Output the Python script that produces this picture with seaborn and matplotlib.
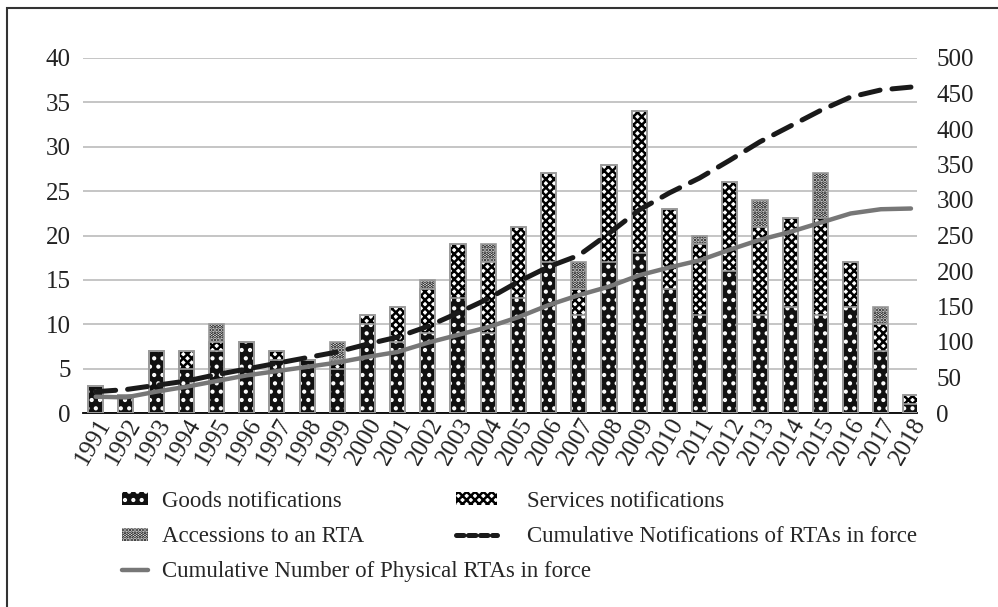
import matplotlib
matplotlib.use("Agg")
import matplotlib.pyplot as plt
import seaborn as sns
import pandas as pd
import numpy as np
from matplotlib.patches import Patch, Rectangle
from matplotlib.lines import Line2D

years = [str(y) for y in range(1991, 2019)]
goods = [3, 2, 7, 5, 7, 8, 6, 6, 5, 10, 8, 9, 13, 9, 13, 17, 11, 17, 18, 14, 11, 16, 11, 12, 11, 12, 7, 1]
services = [0, 0, 0, 2, 1, 0, 1, 0, 1, 1, 4, 5, 6, 8, 8, 10, 3, 11, 16, 9, 8, 10, 10, 10, 11, 5, 3, 1]
accessions = [0, 0, 0, 0, 2, 0, 0, 0, 2, 0, 0, 1, 0, 2, 0, 0, 3, 0, 0, 0, 1, 0, 3, 0, 5, 0, 2, 0]
cum_notifications = [30, 33, 39, 45, 54, 62, 70, 78, 86, 97, 107, 122, 141, 161, 185, 206, 222, 253,
                     286, 310, 331, 356, 382, 404, 426, 445, 455, 459]
cum_physical = [23, 22, 30, 37, 45, 53, 59, 65, 71, 79, 86, 99, 110, 121, 135, 152, 166, 178,
                194, 205, 215, 230, 244, 255, 268, 281, 287, 288]

sns.set_theme(style="white")
plt.rcParams['font.family'] = ['Liberation Serif', 'DejaVu Serif']
plt.rcParams['hatch.linewidth'] = 1.8

df = pd.DataFrame({
    "year": years,
    "goods": goods,
    "gs": np.array(goods) + np.array(services),
    "total": np.array(goods) + np.array(services) + np.array(accessions),
    "x": np.arange(len(years)),
    "cum_notif": cum_notifications,
    "cum_phys": cum_physical,
})

fig = plt.figure(figsize=(9.98, 6.07), dpi=100)
ax = fig.add_axes([83 / 998, 1 - 413 / 607, (917 - 83) / 998, (413 - 58) / 607])

W = 0.5
H_ACC, H_SRV, H_GDS = ".....", "xxxx", ".."
# stacked bars: draw cumulative totals back to front
sns.barplot(data=df, x="year", y="total", ax=ax, color="white", edgecolor="black",
            linewidth=0, hatch=H_ACC, width=W, zorder=2)
sns.barplot(data=df, x="year", y="gs", ax=ax, color="white", edgecolor="black",
            linewidth=0, hatch=H_SRV, width=W, zorder=2)
sns.barplot(data=df, x="year", y="goods", ax=ax, color="#111111", edgecolor="white",
            linewidth=0, hatch=H_GDS, width=W, zorder=2)
# outlines
for col in ["total", "gs", "goods"]:
    sns.barplot(data=df, x="year", y=col, ax=ax, fill=False, edgecolor="#9a9a9a",
                linewidth=1.2, width=W, zorder=3)

ax.set_ylim(0, 40)
ax.set_yticks(range(0, 41, 5))
ax.set_xlim(-0.42, 27.2)
ax.set_xlabel("")
ax.set_ylabel("")
ax.yaxis.grid(True, color="#bbbbbb", linewidth=1.2, zorder=0)
ax.set_axisbelow(True)
for s in ["top", "right", "left"]:
    ax.spines[s].set_visible(False)
ax.spines["bottom"].set_color("black")
ax.spines["bottom"].set_linewidth(1.3)
ax.tick_params(axis="y", labelsize=18, pad=9, length=0, colors="#222222")
ax.tick_params(axis="x", labelsize=18, pad=1, length=0, colors="#222222")
for lab in ax.get_xticklabels():
    lab.set_rotation(60)
    lab.set_ha("right")
    lab.set_va("top")
    lab.set_rotation_mode("anchor")

ax2 = ax.twinx()
sns.lineplot(data=df, x="x", y="cum_phys", ax=ax2, color="#777777", linewidth=3.2,
             solid_capstyle="round", zorder=4)
sns.lineplot(data=df, x="x", y="cum_notif", ax=ax2, color="#1a1a1a", linewidth=3.6,
             dashes=False, zorder=5)
ax2.lines[-1].set_dashes([4.0, 2.4])
ax2.lines[-1].set_dash_capstyle("round")
ax2.set_ylim(0, 500)
ax2.set_yticks(range(0, 501, 50))
ax2.set_xlim(-0.42, 27.2)
ax2.set_ylabel("")
ax2.set_xlabel("")
for s in ["top", "right", "left", "bottom"]:
    ax2.spines[s].set_visible(False)
ax2.tick_params(axis="y", labelsize=18, pad=14, length=0, colors="#222222")
ax2.grid(False)

leg_kw = dict(loc="upper left", frameon=False, fontsize=16.5, handleheight=0.5,
              labelspacing=0.62, borderpad=0, borderaxespad=0)
handles_a = [
    Patch(facecolor="#111111", edgecolor="white", hatch=H_GDS, linewidth=0),
    Patch(facecolor="white", edgecolor="black", hatch=H_ACC, linewidth=0),
    Line2D([0], [0], color="#777777", linewidth=3.2),
]
labels_a = ["Goods notifications", "Accessions to an RTA",
            "Cumulative Number of Physical RTAs in force"]
handles_b = [
    Patch(facecolor="white", edgecolor="black", hatch=H_SRV, linewidth=0),
    Line2D([0], [0], color="#1a1a1a", linewidth=3.6, dashes=[1.5, 0.9], dash_capstyle="round"),
]
labels_b = ["Services notifications", "Cumulative Notifications of RTAs in force"]
fig.legend(handles_a, labels_a, bbox_to_anchor=(122 / 998, 1 - 491 / 607),
           handlelength=1.15, handletextpad=0.6, **leg_kw)
fig.legend(handles_b, labels_b, bbox_to_anchor=(456 / 998, 1 - 491 / 607),
           handlelength=1.8, handletextpad=1.3, **leg_kw)

fig.patches.append(Rectangle((7 / 998, -0.01), 1.0, 1 - 8 / 607 + 0.01, transform=fig.transFigure,
                             fill=False, edgecolor="#333333", linewidth=1.5))

fig.savefig("out.png", dpi=100)
